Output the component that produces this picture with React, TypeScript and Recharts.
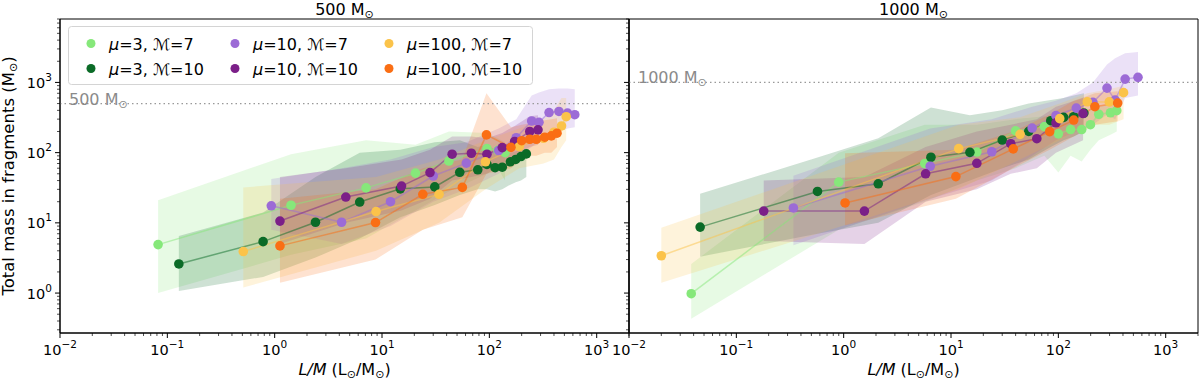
import React from 'react'
import {
  ComposedChart, Area, Line, XAxis, YAxis, ReferenceLine, ReferenceArea, Legend,
} from 'recharts'

const FONT = 'DejaVu Sans'

const SERIES = [
  { mu: '3', mach: '7', color: '#86e87a' },
  { mu: '3', mach: '10', color: '#0b6b27' },
  { mu: '10', mach: '7', color: '#9c6bd6' },
  { mu: '10', mach: '10', color: '#7b1f88' },
  { mu: '100', mach: '7', color: '#fbc34a' },
  { mu: '100', mach: '10', color: '#fa6e14' },
]

// ---- left panel: 500 Msun ----
const left3m7X = [0.082, 1.42, 7.1, 20.5, 42, 95, 120, 140]
const left3m7Y = [4.9, 17.8, 31.5, 51, 76, 114, 108, 100]
const left3m7Lo = [1.0, 3.5, 6, 15, 28, 50, 60, 40]
const left3m7Hi = [21, 95, 150, 130, 200, 190, 160, 140]

const left3m10X = [0.128, 0.78, 2.4, 6.2, 14.8, 31, 53, 78, 95, 113, 132, 157, 176, 197, 221]
const left3m10Y = [2.6, 5.4, 10.2, 19.8, 30.5, 32.5, 52.5, 57, 68, 61, 62, 74, 80, 88, 96]
const left3m10Lo = [1.07, 1.7, 3.2, 6, 12, 18, 25, 30, 30, 28, 30, 35, 38, 40, 45]
const left3m10Hi = [6.5, 14, 45, 100, 110, 140, 150, 120, 130, 110, 100, 100, 105, 110, 110]

const left10m7X = [0.93, 4.2, 12, 30, 61, 122, 178, 248, 290, 360, 445, 535, 625]
const left10m7Y = [17.5, 10.2, 20, 46.5, 71, 107, 163, 282, 270, 372, 386, 366, 347]
const left10m7Lo = [8, 5, 9, 20, 30, 50, 80, 120, 150, 180, 200, 220, 230]
const left10m7Hi = [42, 60, 80, 120, 140, 220, 300, 650, 720, 800, 820, 820, 800]

const left10m10X = [1.12, 4.6, 15.2, 28, 45, 68, 95, 132, 172, 238, 284]
const left10m10Y = [10.6, 23.3, 33.4, 52, 95, 98, 95, 118, 144, 200, 211]
const left10m10Lo = [5, 10, 15, 22, 40, 45, 50, 70, 90, 120, 130]
const left10m10Hi = [45, 60, 80, 110, 170, 170, 160, 190, 240, 330, 340]

const left100m7X = [0.51, 8.8, 34, 92, 190, 320, 400, 470, 520]
const left100m7Y = [3.9, 14.5, 25.5, 74, 122, 160, 195, 240, 325]
const left100m7Lo = [1.2, 4, 10, 30, 60, 70, 80, 120, 150]
const left100m7Hi = [32, 45, 80, 150, 220, 300, 400, 600, 600]

const left100m10X = [1.12, 8.7, 24, 56, 94, 159, 200, 238, 274, 328, 378, 427]
const left100m10Y = [4.7, 10.1, 25.5, 32, 179, 119, 148, 155, 155, 166, 173, 189]
const left100m10Lo = [1.4, 3, 8, 12, 50, 60, 80, 90, 90, 100, 100, 120]
const left100m10Hi = [22, 30, 60, 80, 700, 230, 250, 260, 270, 290, 300, 310]

// ---- right panel: 1000 Msun ----
const right3m7X = [0.038, 0.9, 5.7, 17.4, 40, 74, 100, 130, 165, 199, 238, 306, 350]
const right3m7Y = [0.98, 38, 70, 102, 204, 235, 185, 213, 213, 250, 352, 370, 396]
const right3m7Lo = [0.43, 8, 20, 40, 60, 90, 52, 90, 75, 110, 150, 180, 200]
const right3m7Hi = [2.6, 100, 250, 250, 300, 330, 300, 350, 400, 420, 450, 480, 500]

const right3m10X = [0.046, 0.57, 2.1, 6.5, 15, 30, 53, 85, 112, 139, 173]
const right3m10Y = [8.7, 28, 36, 86, 101, 151, 201, 285, 318, 325, 366]
const right3m10Lo = [3.3, 7, 10, 25, 40, 60, 80, 120, 150, 170, 200]
const right3m10Hi = [26, 85, 160, 440, 340, 400, 500, 560, 600, 650, 700]

const right10m7X = [0.34, 6.4, 24, 57, 95, 147, 210, 284, 338, 419, 552]
const right10m7Y = [16.3, 64, 103, 224, 336, 431, 520, 830, 560, 1115, 1180]
const right10m7Lo = [4.8, 22, 40, 90, 150, 200, 250, 350, 300, 600, 650]
const right10m7Hi = [47, 220, 300, 450, 550, 700, 1000, 1800, 2200, 2600, 2700]

const right10m10X = [0.18, 1.56, 5.8, 17.4, 36, 63, 95, 170]
const right10m10Y = [14.7, 14.7, 50, 70.5, 134, 158, 266, 360]
const right10m10Lo = [5.5, 5, 20, 30, 50, 60, 100, 150]
const right10m10Hi = [40, 45, 120, 200, 250, 300, 450, 600]

const right100m7X = [0.02, 11.8, 44, 103, 186, 298, 405]
const right100m7Y = [3.4, 114, 182, 305, 530, 528, 715]
const right100m7Lo = [1.4, 30, 80, 150, 250, 250, 300]
const right100m7Hi = [8.5, 250, 320, 500, 700, 800, 900]

const right100m10X = [1.03, 11.1, 38, 83, 139, 219, 357]
const right100m10Y = [19.2, 45.6, 113, 199, 291, 451, 508]
const right100m10Lo = [9.2, 22, 60, 110, 170, 250, 280]
const right100m10Hi = [98, 110, 200, 350, 550, 700, 750]

const X_DOMAIN = [0.01, 2000]
const Y_DOMAIN = [0.27, 8000]
const X_DECADES = [-2, -1, 0, 1, 2, 3]
const Y_DECADES = [-1, 0, 1, 2, 3]
const MINOR = [1, 2, 3, 4, 5, 6, 7, 8, 9]

function logTicks(decades: number[], lo: number, hi: number) {
  const out: number[] = []
  decades.forEach((d) => MINOR.forEach((m) => {
    const v = m * Math.pow(10, d)
    if (v >= lo * 0.999 && v <= hi * 1.001) out.push(v)
  }))
  return out
}
const xTicks = logTicks(X_DECADES, X_DOMAIN[0], X_DOMAIN[1])
const yTicks = logTicks(Y_DECADES, Y_DOMAIN[0], Y_DOMAIN[1])

function zip(x: number[], y: number[], lo: number[], hi: number[]) {
  return x.map((v, i) => ({ x: v, y: y[i], band: [lo[i], hi[i]] }))
}

const leftData = [
  zip(left3m7X, left3m7Y, left3m7Lo, left3m7Hi),
  zip(left3m10X, left3m10Y, left3m10Lo, left3m10Hi),
  zip(left10m7X, left10m7Y, left10m7Lo, left10m7Hi),
  zip(left10m10X, left10m10Y, left10m10Lo, left10m10Hi),
  zip(left100m7X, left100m7Y, left100m7Lo, left100m7Hi),
  zip(left100m10X, left100m10Y, left100m10Lo, left100m10Hi),
]
const rightData = [
  zip(right3m7X, right3m7Y, right3m7Lo, right3m7Hi),
  zip(right3m10X, right3m10Y, right3m10Lo, right3m10Hi),
  zip(right10m7X, right10m7Y, right10m7Lo, right10m7Hi),
  zip(right10m10X, right10m10Y, right10m10Lo, right10m10Hi),
  zip(right100m7X, right100m7Y, right100m7Lo, right100m7Hi),
  zip(right100m10X, right100m10Y, right100m10Lo, right100m10Hi),
]

function expOf(v: number) {
  const lg = Math.log10(v)
  const e = Math.round(lg)
  return { e, major: Math.abs(lg - e) < 1e-6 }
}
const supText = (e: number) => (e < 0 ? '\u2212' + -e : String(e))

const XTick = (props: any) => {
  const { x, y, payload } = props
  const { e, major } = expOf(payload.value)
  return (
    <g>
      <line x1={x} x2={x} y1={y} y2={y + (major ? 5 : 3)} stroke="#000" strokeWidth={major ? 1 : 0.7} />
      {major && (
        <text x={x} y={y + 22} textAnchor="middle" fontFamily={FONT} fontSize={14.5} fill="#000">
          10<tspan dy={-7} fontSize={10.5}>{supText(e)}</tspan>
        </text>
      )}
    </g>
  )
}

const makeYTick = (labels: boolean) => (props: any) => {
  const { x, y, payload } = props
  const { e, major } = expOf(payload.value)
  return (
    <g>
      <line x1={x} x2={x - (major ? 5 : 3)} y1={y} y2={y} stroke="#000" strokeWidth={major ? 1 : 0.7} />
      {labels && major && (
        <text x={x - 8} y={y + 5.5} textAnchor="end" fontFamily={FONT} fontSize={14.5} fill="#000">
          10<tspan dy={-7} fontSize={10.5}>{supText(e)}</tspan>
        </text>
      )}
    </g>
  )
}

const Sun = ({ size = 11 }: { size?: number }) => (
  <tspan fontSize={size} dy={3}>⊙</tspan>
)

const LegendBox = () => (
  <svg width={466} height={60} style={{ display: 'block' }}>
    <rect x={0.5} y={0.5} width={464} height={58} rx={3} fill="#fff" fillOpacity={0.8} stroke="#d4d4d4" />
    {SERIES.map((s, i) => {
      const col = Math.floor(i / 2)
      const row = i % 2
      const mx = [23, 167, 321][col]
      const tx = [41, 185, 339][col]
      const cy = row === 0 ? 17.5 : 42.5
      return (
        <g key={i}>
          <circle cx={mx} cy={cy} r={4.5} fill={s.color} />
          <text x={tx} y={cy + 6} fontFamily={FONT} fontSize={16} fill="#000">
            <tspan fontStyle="italic">μ</tspan>={s.mu}, ℳ={s.mach}
          </text>
        </g>
      )
    })}
  </svg>
)

function Panel({ data, title, refValue, refLabel, showYLabels, style }: any) {
  return (
    <div style={{ position: 'absolute', top: 0, ...style }}>
      <ComposedChart width={640} height={380} margin={{ top: 19, right: 11, bottom: 17, left: 0 }}>
        <XAxis
          type="number" dataKey="x" scale="log" domain={X_DOMAIN} allowDataOverflow
          ticks={xTicks} interval={0} tick={<XTick />} tickSize={0} tickMargin={0} tickLine={false}
          axisLine={{ stroke: '#000' }} height={30}
          label={{
            content: (p: any) => {
              const vb = p.viewBox
              return (
                <text x={vb.x + vb.width / 2} y={vb.y + 42} textAnchor="middle" fontFamily={FONT} fontSize={16} fill="#000">
                  <tspan fontStyle="italic">L/M</tspan> (L<Sun /><tspan dy={-3}>/M</tspan><Sun /><tspan dy={-3}>)</tspan>
                </text>
              )
            },
          }}
        />
        <YAxis
          type="number" scale="log" domain={Y_DOMAIN} allowDataOverflow
          ticks={yTicks} interval={0} tick={makeYTick(showYLabels)} tickSize={0} tickMargin={0} tickLine={false}
          axisLine={{ stroke: '#000' }} width={60}
          label={showYLabels ? {
            content: (p: any) => {
              const vb = p.viewBox
              const cy = vb.y + vb.height / 2
              return (
                <text x={14} y={cy} transform={`rotate(-90, 14, ${cy})`} textAnchor="middle" fontFamily={FONT} fontSize={16.5} fill="#000">
                  Total mass in fragments (M<Sun /><tspan dy={-3}>)</tspan>
                </text>
              )
            },
          } : undefined}
        />
        {data.map((d: any, i: number) => (
          <Area
            key={'a' + i} data={d} dataKey="band" type="linear" stroke="none"
            fill={SERIES[i].color} fillOpacity={0.2} isAnimationActive={false} activeDot={false}
          />
        ))}
        {data.map((d: any, i: number) => (
          <Line
            key={'l' + i} data={d} dataKey="y" type="linear" stroke={SERIES[i].color}
            strokeWidth={1.5} strokeOpacity={0.5} isAnimationActive={false} activeDot={false}
            dot={{ r: 4.8, fill: SERIES[i].color, stroke: 'none', fillOpacity: 1, strokeOpacity: 0 }}
          />
        ))}
        <ReferenceLine
          y={refValue} stroke="#999" strokeDasharray="1.5 3" strokeWidth={1.3}
          label={{
            content: (p: any) => {
              const vb = p.viewBox
              return (
                <text x={vb.x + 9} y={vb.y + 1} fontFamily={FONT} fontSize={16} fill="#8a8a8a">
                  {refLabel} M<Sun />
                </text>
              )
            },
          }}
        />
        <ReferenceArea
          x1={X_DOMAIN[0]} x2={X_DOMAIN[1]} y1={Y_DOMAIN[0]} y2={Y_DOMAIN[1]}
          fill="none" stroke="#000" strokeWidth={1} ifOverflow="visible"
          label={{
            content: (p: any) => {
              const vb = p.viewBox
              return (
                <text x={vb.x + vb.width / 2} y={15} textAnchor="middle" fontFamily={FONT} fontSize={16} fill="#000">
                  {title} M<Sun />
                </text>
              )
            },
          }}
        />
        {showYLabels && (
          <Legend
            layout="horizontal" verticalAlign="middle" align="center"
            content={() => <LegendBox />}
            wrapperStyle={{ position: 'absolute', left: 68, top: 26, width: 466, height: 60 }}
          />
        )}
      </ComposedChart>
    </div>
  )
}

export default function App() {
  return (
    <div style={{ position: 'absolute', left: 0, top: 0, width: 1200, height: 380, overflow: 'hidden', background: '#fff' }}>
      <Panel data={leftData} title="500" refValue={500} refLabel="500" showYLabels style={{ left: 0 }} />
      <Panel data={rightData} title="1000" refValue={1000} refLabel="1000" showYLabels={false} style={{ left: 569 }} />
    </div>
  )
}
